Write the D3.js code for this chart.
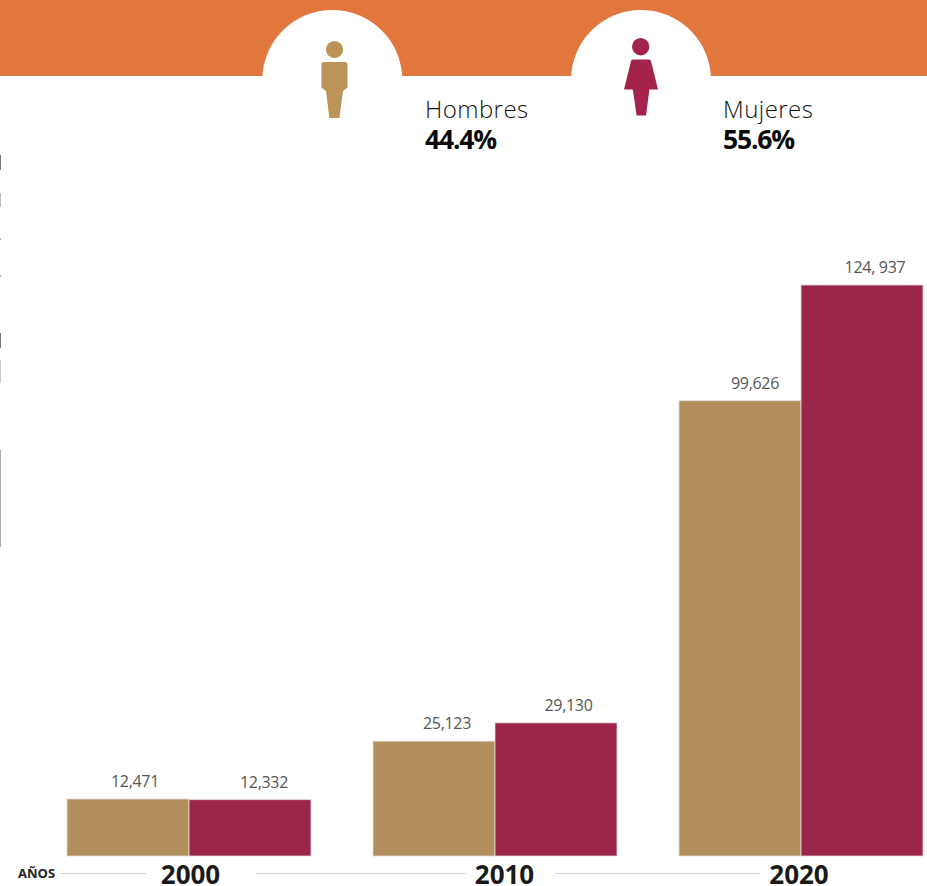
<!DOCTYPE html>
<html lang="es">
<head>
<meta charset="utf-8">
<title>Hombres y mujeres por año</title>
<script src="https://cdn.jsdelivr.net/npm/d3@7"></script>
<style>
  html, body { margin: 0; padding: 0; background: #fff; }
  svg { display: block; font-family: "Open Sans", sans-serif; }
</style>
</head>
<body>
<div id="chart"></div>
<script>
const years = ['2000', '2010', '2020'];
const seriesNames = ['Hombres', 'Mujeres'];
const seriesShares = ['44.4%', '55.6%'];
const hombres = [12471, 25123, 99626];
const mujeres = [12332, 29130, 124937];
const hombresLabels = ['12,471', '25,123', '99,626'];
const mujeresLabels = ['12,332', '29,130', '124, 937'];

const W = 927, H = 886;
const colors = { Hombres: '#B28E5D', Mujeres: '#9C264A' };
const iconColors = { Hombres: '#BC9459', Mujeres: '#A3234A' };

const svg = d3.select('#chart').append('svg').attr('width', W).attr('height', H);

// banner with the two white half circles
svg.append('rect').attr('width', W).attr('height', 76).attr('fill', '#E2773D');
svg.append('rect').attr('y', 76).attr('width', W).attr('height', H - 76).attr('fill', '#fff');
svg.selectAll('.cap').data([332.3, 641]).join('circle')
  .attr('cx', d => d).attr('cy', 80).attr('r', 70).attr('fill', '#fff');

// man
svg.append('circle').attr('cx', 334.5).attr('cy', 49.5).attr('r', 8.6).attr('fill', iconColors.Hombres);
svg.append('path').attr('fill', iconColors.Hombres)
  .attr('d', 'M324,62 H345 Q347.5,62 347.5,64.5 V87.5 L343,91 L339.4,118 H329.4 L326,91 L321.4,87.5 V64.5 Q321.4,62 324,62 Z');

// woman
svg.append('circle').attr('cx', 640.7).attr('cy', 46.7).attr('r', 8.7).attr('fill', iconColors.Mujeres);
svg.append('path').attr('fill', iconColors.Mujeres)
  .attr('d', 'M633,59.5 H649 Q650.5,59.5 651,61 L658,89.5 H649.4 L646,115.5 H636.6 L632.8,89.5 H624 L631,61 Q631.5,59.5 633,59.5 Z');

// legend text
[{ x: 425, i: 0 }, { x: 723, i: 1 }].forEach(l => {
  svg.append('text').attr('x', l.x).attr('y', 118)
    .attr('font-size', 24).attr('font-weight', 300).attr('letter-spacing', 0.45).attr('fill', '#111')
    .text(seriesNames[l.i]);
  svg.append('text').attr('x', l.x).attr('y', 148.5)
    .attr('font-size', 26.5).attr('font-weight', 700).attr('letter-spacing', -1.2).attr('fill', '#0a0a0a')
    .text(seriesShares[l.i]);
});

// scales
const baseY = 856;
const x = d3.scaleBand().domain(years).range([67, 923]).paddingInner(62 / 306).paddingOuter(0);
const xSub = d3.scaleBand().domain(seriesNames).range([0, x.bandwidth()]);
const y = d3.scaleLinear().domain([0, d3.max(mujeres)]).range([baseY, 285]);

const rows = years.flatMap((yr, i) => [
  { year: yr, name: 'Hombres', value: hombres[i], label: hombresLabels[i] },
  { year: yr, name: 'Mujeres', value: mujeres[i], label: mujeresLabels[i] }
]);

svg.selectAll('.bar').data(rows).join('rect')
  .attr('class', 'bar')
  .attr('x', d => x(d.year) + xSub(d.name))
  .attr('y', d => y(d.value))
  .attr('width', xSub.bandwidth())
  .attr('height', d => baseY - y(d.value))
  .attr('fill', d => colors[d.name])
  .attr('stroke', 'rgba(225,220,220,0.8)')
  .attr('stroke-width', 1);

// labels sit slightly off the bar centre in the original
const labelDx = [7, 14, 13, 12.5, 15, 13];
svg.selectAll('.val').data(rows).join('text')
  .attr('class', 'val')
  .attr('x', (d, i) => x(d.year) + xSub(d.name) + xSub.bandwidth() / 2 + labelDx[i])
  .attr('y', d => y(d.value) - 12)
  .attr('text-anchor', 'middle')
  .attr('font-size', 16).attr('letter-spacing', -0.3).attr('fill', '#555')
  .text(d => d.label);

// year axis
const yearDx = [1.5, 9.5, -2];
svg.selectAll('.yr').data(years).join('text')
  .attr('class', 'yr')
  .attr('x', (d, i) => x(d) + x.bandwidth() / 2 + yearDx[i])
  .attr('y', 884)
  .attr('text-anchor', 'middle')
  .attr('font-size', 26).attr('font-weight', 700).attr('fill', '#1a1a1a')
  .text(d => d);

svg.selectAll('.rule').data([[60, 147], [256, 466], [555, 760]]).join('line')
  .attr('x1', d => d[0]).attr('x2', d => d[1])
  .attr('y1', 873.5).attr('y2', 873.5)
  .attr('stroke', '#d6d6d6').attr('stroke-width', 1);

svg.append('text').attr('x', 18).attr('y', 878)
  .attr('font-size', 13).attr('font-weight', 700).attr('fill', '#222').text('AÑOS');

// cropped remains of side text at the left edge
svg.selectAll('.sliver').data([[155, 170, '#777'], [193, 207, '#bbb'], [238, 240, '#aaa'], [275, 277, '#aaa'],
    [333, 348, '#777'], [360, 383, '#ccc'], [450, 547, '#aaa']]).join('rect')
  .attr('x', 0).attr('width', 1)
  .attr('y', d => d[0]).attr('height', d => d[1] - d[0])
  .attr('fill', d => d[2]);
</script>
</body>
</html>
